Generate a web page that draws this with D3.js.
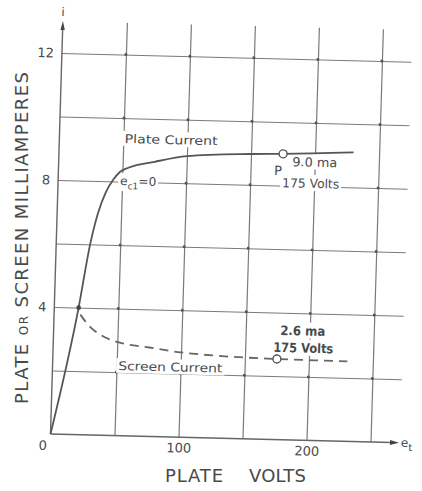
<!DOCTYPE html>
<html>
<head>
<meta charset="utf-8">
<script src="https://cdn.jsdelivr.net/npm/d3@7"></script>
<style>
  html, body { margin: 0; padding: 0; background: #fff; }
  svg { display: block; }
  text { font-family: 'DejaVu Sans', sans-serif; fill: #4a4a4a; }
</style>
</head>
<body>
<div class="js-canvas"></div>
<script>
'use strict';

// plate current curve (plate volts, ma)
const plateVolts = [0, 19, 26.5, 32, 37.5, 43, 48, 55, 75, 100, 150, 175, 230];
const plateMa = [0, 4, 6, 7, 7.65, 8.05, 8.3, 8.45, 8.65, 8.85, 8.97, 9.0, 9.1];

// screen current curve (dashed)
const screenVolts = [20.5, 25, 29, 35, 50, 75, 100, 125, 150, 175, 230];
const screenMa = [3.78, 3.55, 3.38, 3.2, 2.95, 2.8, 2.67, 2.6, 2.56, 2.54, 2.52];

// grid + tick labels
const gridVolts = [50, 100, 150, 200, 250];
const gridMa = [2, 4, 6, 8, 10, 12];
const xTickLabels = [100, 200];
const yTickLabels = [4, 8, 12];

// operating points at 175 volts
const pointVolts = [175, 175];
const pointMa = [9.0, 2.54];

const config = {
    width: 422,
    height: 491,
    gridRight: 400,
    ink: '#555',
    grid: '#7a7a7a'
};

const svg = d3.select('.js-canvas')
    .append('svg')
    .attr('width', config.width)
    .attr('height', config.height);

// the scanned sheet is slightly skewed, keep that
const graph = svg.append('g')
    .attr('transform', 'matrix(1,0.025,-0.03,1,13.02,-1.26)');

const x = d3.scaleLinear().domain([0, 250]).range([50.5, 370.5]);
const y = d3.scaleLinear().domain([0, 12]).range([434, 53]);

const gridLayer = graph.append('g');
const dotLayer = graph.append('g');
const bgLayer = graph.append('g');
const curveLayer = graph.append('g');
const textLayer = graph.append('g');

// grid lines via axes
const yGrid = d3.axisLeft(y)
    .tickValues(gridMa)
    .tickSize(-(config.gridRight - x(0)))
    .tickPadding(8)
    .tickFormat(d => yTickLabels.includes(d) ? d : '');

const xGrid = d3.axisBottom(x)
    .tickValues(gridVolts)
    .tickSize(-(y(0) - y(13)))
    .tickPadding(6)
    .tickFormat(d => xTickLabels.includes(d) ? d : '');

const yGridGroup = gridLayer.append('g')
    .attr('transform', `translate(${x(0)},0)`)
    .call(yGrid);
const xGridGroup = gridLayer.append('g')
    .attr('transform', `translate(0,${y(0)})`)
    .call(xGrid);

[yGridGroup, xGridGroup].forEach(g => {
    g.select('.domain').remove();
    g.selectAll('line').attr('stroke', config.grid).attr('stroke-width', 1.2);
    g.selectAll('text')
        .attr('font-family', "'DejaVu Sans', sans-serif")
        .attr('font-size', 13)
        .attr('fill', '#555');
});

// origin label
gridLayer.append('text')
    .attr('x', x(0) - 7.5)
    .attr('y', y(0) + 16)
    .attr('text-anchor', 'middle')
    .attr('font-size', 13)
    .attr('fill', '#555')
    .text('0');

// axes with arrows
gridLayer.append('line')
    .attr('x1', x(0)).attr('y1', y(0))
    .attr('x2', 392).attr('y2', y(0))
    .attr('stroke', '#666').attr('stroke-width', 1.4);
gridLayer.append('path')
    .attr('d', `M390,${y(0) - 2.5}L399,${y(0)}L390,${y(0) + 2.5}Z`)
    .attr('fill', '#444');
gridLayer.append('line')
    .attr('x1', x(0)).attr('y1', y(0))
    .attr('x2', x(0)).attr('y2', 28)
    .attr('stroke', '#666').attr('stroke-width', 1.4);
gridLayer.append('path')
    .attr('d', `M${x(0) - 2.2},30L${x(0)},21L${x(0) + 2.2},30Z`)
    .attr('fill', '#444');

const axisEnd = gridLayer.append('text')
    .attr('x', 401)
    .attr('y', y(0) + 4)
    .attr('font-size', 12);
axisEnd.append('tspan').text('e');
axisEnd.append('tspan').attr('font-size', 10).attr('dy', 4).text('t');

gridLayer.append('text')
    .attr('x', x(0))
    .attr('y', 16)
    .attr('text-anchor', 'middle')
    .attr('font-size', 12)
    .text('i');

// little dots where grid lines cross
const crossings = d3.cross(gridVolts, gridMa);
dotLayer.selectAll('circle')
    .data(crossings)
    .enter().append('circle')
    .attr('cx', d => x(d[0]))
    .attr('cy', d => y(d[1]))
    .attr('r', 1.5)
    .attr('fill', '#555');

// annotations (text with white background that breaks the grid)
function note(parts, v, ma, opts) {
    const t = textLayer.append('text')
        .attr('x', x(v))
        .attr('y', y(ma))
        .attr('font-size', opts.size || 12)
        .attr('fill', opts.fill || '#4a4a4a');
    if (opts.anchor) t.attr('text-anchor', opts.anchor);
    if (opts.length) t.attr('textLength', opts.length).attr('lengthAdjust', 'spacingAndGlyphs');
    if (opts.weight) t.attr('font-weight', opts.weight);
    parts.forEach(p => {
        const s = t.append('tspan').text(p.t);
        if (p.size) s.attr('font-size', p.size);
        if (p.dy) s.attr('dy', p.dy);
    });
    const b = t.node().getBBox();
    bgLayer.append('rect')
        .attr('x', b.x - 2)
        .attr('y', b.y - 1)
        .attr('width', b.width + 4)
        .attr('height', b.height + 1)
        .attr('fill', '#fff');
    return t;
}

note([{ t: 'Plate  Current' }], 51, 9.22, { size: 12, length: 93 });
note([{ t: 'e' }, { t: 'c1', size: 9, dy: 4 }, { t: '=0', dy: -4 }], 48.5, 7.89, { size: 12, length: 36 });
note([{ t: 'P' }], 168.4, 8.33, { size: 13 });
note([{ t: '9.0 ma' }], 182.4, 8.62, { size: 12.5, length: 45 });
note([{ t: '175 Volts' }], 175, 7.95, { size: 12.5, length: 57 });
note([{ t: 'Screen  Current' }], 51.3, 2.07, { size: 12, length: 104 });
note([{ t: '2.6 ma' }], 177, 3.3, { size: 13, length: 45, weight: 'bold', fill: '#3a3a3a' });
note([{ t: '175 Volts' }], 171.9, 2.76, { size: 13, length: 60, weight: 'bold', fill: '#3a3a3a' });

// curves
const line = d3.line()
    .x(d => x(d[0]))
    .y(d => y(d[1]))
    .curve(d3.curveMonotoneX);

curveLayer.append('path')
    .datum(d3.zip(plateVolts, plateMa))
    .attr('d', line)
    .attr('fill', 'none')
    .attr('stroke', config.ink)
    .attr('stroke-width', 1.8);

curveLayer.append('path')
    .datum(d3.zip(screenVolts, screenMa))
    .attr('d', line)
    .attr('fill', 'none')
    .attr('stroke', '#666')
    .attr('stroke-width', 1.8)
    .attr('stroke-dasharray', '9,6');

// dot where the curves meet at 4 ma
curveLayer.append('circle')
    .attr('cx', x(plateVolts[1]))
    .attr('cy', y(plateMa[1]))
    .attr('r', 2.3)
    .attr('fill', '#444');

curveLayer.selectAll('.op')
    .data(d3.zip(pointVolts, pointMa))
    .enter().append('circle')
    .attr('class', 'op')
    .attr('cx', d => x(d[0]))
    .attr('cy', d => y(d[1]))
    .attr('r', 4)
    .attr('fill', '#fff')
    .attr('stroke', config.ink)
    .attr('stroke-width', 1.4);

// axis titles
const yTitle = svg.append('text')
    .attr('transform', 'translate(28,238) rotate(-90)')
    .attr('text-anchor', 'middle')
    .attr('font-size', 18)
    .attr('textLength', 332)
    .attr('lengthAdjust', 'spacing');
yTitle.append('tspan').text('PLATE ');
yTitle.append('tspan').attr('font-size', 12).text('OR');
yTitle.append('tspan').text(' SCREEN  MILLIAMPERES');

svg.append('text')
    .attr('x', 165).attr('y', 482)
    .attr('font-size', 18)
    .attr('textLength', 58)
    .text('PLATE');
svg.append('text')
    .attr('x', 249).attr('y', 482)
    .attr('font-size', 18)
    .attr('textLength', 57)
    .text('VOLTS');
</script>
</body>
</html>
